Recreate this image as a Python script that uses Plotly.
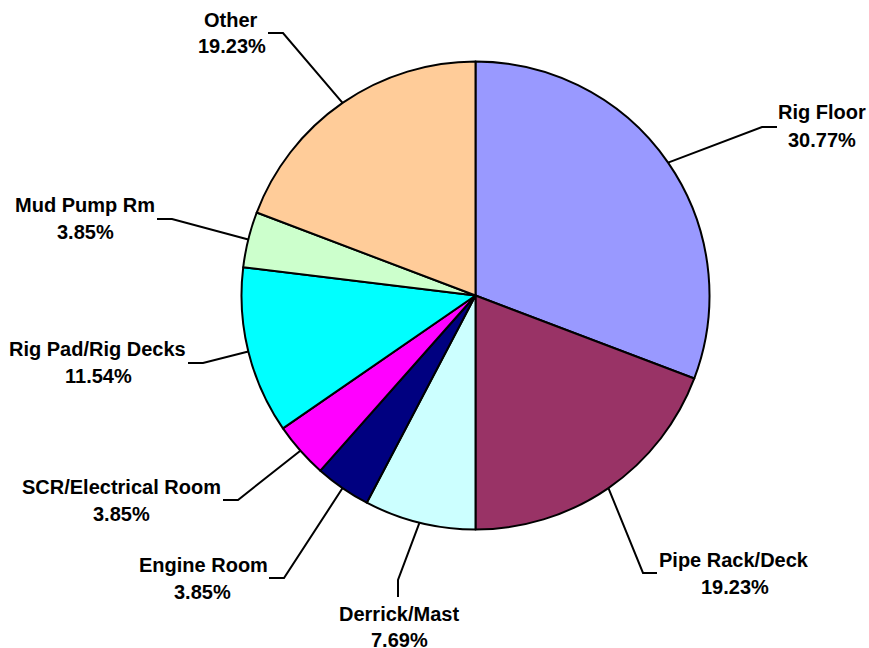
import math
import plotly.graph_objects as go

# ---- data ----
categories = ["Rig Floor", "Pipe Rack/Deck", "Derrick/Mast", "Engine Room",
              "SCR/Electrical Room", "Rig Pad/Rig Decks", "Mud Pump Rm", "Other"]
values = [8, 5, 2, 1, 1, 3, 1, 5]
colors = ["#9999FF", "#993366", "#CCFFFF", "#000080",
          "#FF00FF", "#00FFFF", "#CCFFCC", "#FFCC99"]

# ---- layout constants (pixels) ----
W, H = 869, 648
CX, CY, R = 475.5, 295.5, 234.0
FONT = "Liberation Sans, Arial, sans-serif"
FS = 20

# label layout: elbow point(s) of leader line, name centre, pct centre
label_layout = {
    "Rig Floor":           dict(path=[(762, 127), (777, 127)], name=(822, 112), pct=(822, 140)),
    "Pipe Rack/Deck":      dict(path=[(643, 573), (657, 573)], name=(734, 560), pct=(735, 587)),
    "Derrick/Mast":        dict(path=[(398, 580), (398, 597)], name=(399, 614), pct=(399, 640)),
    "Engine Room":         dict(path=[(284, 578), (269, 578)], name=(203, 565), pct=(202, 592)),
    "SCR/Electrical Room": dict(path=[(238, 500), (223, 500)], name=(121, 487), pct=(121, 514)),
    "Rig Pad/Rig Decks":   dict(path=[(203, 363), (188, 363)], name=(97, 349), pct=(98, 376)),
    "Mud Pump Rm":         dict(path=[(172, 219), (157, 219)], name=(85, 205), pct=(85, 232)),
    "Other":               dict(path=[(283, 33), (268, 33)], name=(231, 20), pct=(232, 46)),
}


def px(x):
    return x / W


def py(y):
    return 1 - y / H


fig = go.Figure(go.Pie(
    labels=categories,
    values=values,
    sort=False,
    direction="clockwise",
    rotation=0,
    marker=dict(colors=colors, line=dict(color="black", width=2)),
    textinfo="none",
    hoverinfo="label+percent",
    showlegend=False,
    domain=dict(x=[px(CX - R), px(CX + R)], y=[py(CY + R), py(CY - R)]),
))

total = sum(values)
shapes = []
annotations = []
cum = 0.0
for cat, v in zip(categories, values):
    mid = (cum + v / 2) / total * 2 * math.pi
    cum += v
    ex = CX + R * math.sin(mid)
    ey = CY - R * math.cos(mid)
    lay = label_layout[cat]
    pts = [(ex, ey)] + lay["path"]
    d = "M {} {}".format(px(pts[0][0]), py(pts[0][1]))
    for (x, y) in pts[1:]:
        d += " L {} {}".format(px(x), py(y))
    shapes.append(dict(type="path", path=d, xref="paper", yref="paper",
                       line=dict(color="black", width=2)))
    pct = "{:.2f}%".format(v / total * 100)
    for txt, (x, y) in ((cat, lay["name"]), (pct, lay["pct"])):
        annotations.append(dict(text="<b>{}</b>".format(txt), x=px(x), y=py(y),
                                xref="paper", yref="paper", xanchor="center",
                                yanchor="middle", showarrow=False,
                                font=dict(family=FONT, size=FS, color="black")))

fig.update_layout(
    width=W, height=H,
    margin=dict(l=0, r=0, t=0, b=0),
    paper_bgcolor="white", plot_bgcolor="white",
    shapes=shapes, annotations=annotations,
)

fig.write_html("out.html", config={"displayModeBar": False},
               post_script="document.body.style.margin='0';document.body.style.overflow='hidden';")
